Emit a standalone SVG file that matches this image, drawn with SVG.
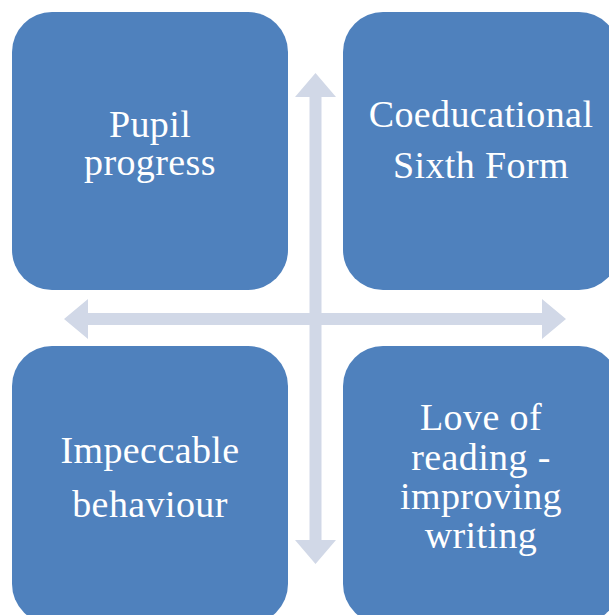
<svg xmlns="http://www.w3.org/2000/svg" width="609" height="615" viewBox="0 0 609 615">
<style>
.box{fill:#4F81BD;}
.arr{fill:#D1D8E7;}
.t{font-family:"Liberation Serif","DejaVu Serif",serif;font-size:38px;letter-spacing:0.4px;fill:#FFFFFF;text-anchor:middle;}
</style>
<rect width="609" height="615" fill="#FFFFFF"/>
<g id="connectors">
<polygon class="arr" points="315.5,73 336,97 321.5,97 321.5,540 336,540 315.5,564 295,540 309.5,540 309.5,97 295,97"/>
<polygon class="arr" points="64,319 88,299 88,313 542,313 542,299 566,319 542,339 542,325 88,325 88,339"/>
</g>
<g id="node-pupil">
<rect class="box" x="12" y="12" width="276" height="278" rx="40" ry="40"/>
<text class="t" x="150" y="137">Pupil</text>
<text class="t" x="150" y="175">progress</text>
</g>
<g id="node-sixth">
<rect class="box" x="343" y="12" width="276" height="278" rx="40" ry="40"/>
<text class="t" x="481" y="127">Coeducational</text>
<text class="t" x="481" y="178">Sixth Form</text>
</g>
<g id="node-behaviour">
<rect class="box" x="12" y="346" width="276" height="278" rx="40" ry="40"/>
<text class="t" x="150" y="463">Impeccable</text>
<text class="t" x="150" y="517">behaviour</text>
</g>
<g id="node-reading">
<rect class="box" x="343" y="346" width="276" height="278" rx="40" ry="40"/>
<text class="t" x="481" y="430">Love of</text>
<text class="t" x="481" y="470">reading -</text>
<text class="t" x="481" y="509">improving</text>
<text class="t" x="481" y="548">writing</text>
</g>
</svg>
